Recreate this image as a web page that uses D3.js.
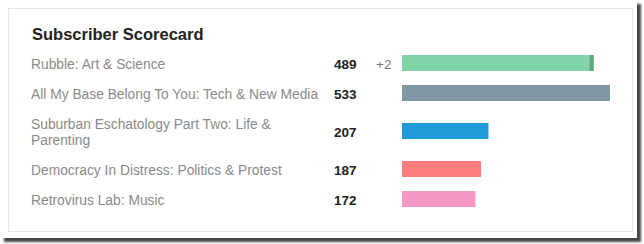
<!DOCTYPE html>
<html>
<head>
<meta charset="utf-8">
<script src="https://cdn.jsdelivr.net/npm/d3@7"></script>
<style>
  body { margin: 0; background: #fff; }
  svg { display: block; font-family: "Liberation Sans", Arial, sans-serif; }
</style>
</head>
<body>
<div id="chart"></div>
<script>
// data
let feeds = ["Rubble: Art & Science", "All My Base Belong To You: Tech & New Media",
  "Suburban Eschatology Part Two: Life & Parenting", "Democracy In Distress: Politics & Protest",
  "Retrovirus Lab: Music"];
let subscribers = [489, 533, 207, 187, 172];
let changes = ["+2", "", "", "", ""];
let colors = ["#82d4a8", "#8196a3", "#1f9bdc", "#ff7f7f", "#f598c5"];

let width = 644, height = 244;

let svg = d3.select("#chart").append("svg")
  .attr("width", width)
  .attr("height", height);

// drop shadow of the screenshot frame
let defs = svg.append("defs");
let blur = defs.append("filter").attr("id", "shadow")
  .attr("x", "-5%").attr("y", "-5%").attr("width", "110%").attr("height", "110%");
blur.append("feGaussianBlur").attr("stdDeviation", 1.2);

svg.append("rect").attr("x", 4).attr("y", 4).attr("width", 637).attr("height", 238)
  .attr("fill", "#444").attr("filter", "url(#shadow)");
svg.append("rect").attr("x", 0).attr("y", 0).attr("width", 637).attr("height", 238)
  .attr("fill", "#fff");

// card
svg.append("rect")
  .attr("x", 8.5).attr("y", 8.5).attr("width", 624).attr("height", 223)
  .attr("fill", "#fff").attr("stroke", "#e6e6e6");

svg.append("text")
  .attr("x", 32).attr("y", 40)
  .attr("font-size", 16.5).attr("font-weight", "bold").attr("fill", "#222")
  .text("Subscriber Scorecard");

// scale (bars have a small base length, so domain starts a bit below zero)
let x = d3.scaleLinear().domain([-25, d3.max(subscribers)]).range([402, 610]);

let labelWidth = 295, lineH = 16, rowH = 30, barH = 16;

let g = svg.append("g");
let yCursor = 48;

feeds.forEach(function (name, i) {
  let row = g.append("g");
  let label = row.append("text")
    .attr("x", 31)
    .attr("font-size", 13.8)
    .attr("fill", "#8a8a8a");

  // wrap label into lines
  let words = name.split(" ");
  let lines = [];
  let line = [];
  let tmp = label.append("tspan");
  words.forEach(function (w) {
    line.push(w);
    tmp.text(line.join(" "));
    if (tmp.node().getComputedTextLength() > labelWidth && line.length > 1) {
      line.pop();
      lines.push(line.join(" "));
      line = [w];
    }
  });
  lines.push(line.join(" "));
  tmp.remove();

  let h = rowH + (lines.length - 1) * lineH;
  let cy = yCursor + h / 2;

  lines.forEach(function (l, k) {
    label.append("tspan")
      .attr("x", 31)
      .attr("y", cy + 1 + (k - (lines.length - 1) / 2) * lineH)
      .attr("dy", "0.35em")
      .text(l);
  });

  row.append("text")
    .attr("x", 334).attr("y", cy + 1).attr("dy", "0.35em")
    .attr("font-size", 13.5).attr("font-weight", "bold").attr("fill", "#222")
    .text(subscribers[i]);

  if (changes[i]) {
    row.append("text")
      .attr("x", 376).attr("y", cy + 1).attr("dy", "0.35em")
      .attr("font-size", 13.5).attr("fill", "#777")
      .text(changes[i]);
  }

  row.append("rect")
    .attr("x", x(-25)).attr("y", cy - barH / 2)
    .attr("width", x(subscribers[i]) - x(-25)).attr("height", barH)
    .attr("fill", colors[i]);

  if (changes[i]) {
    // darker tip marks the recent gain
    row.append("rect")
      .attr("x", x(subscribers[i]) - 4).attr("y", cy - barH / 2)
      .attr("width", 4).attr("height", barH)
      .attr("fill", "#5fa87f");
  }

  yCursor += h;
});
</script>
</body>
</html>
